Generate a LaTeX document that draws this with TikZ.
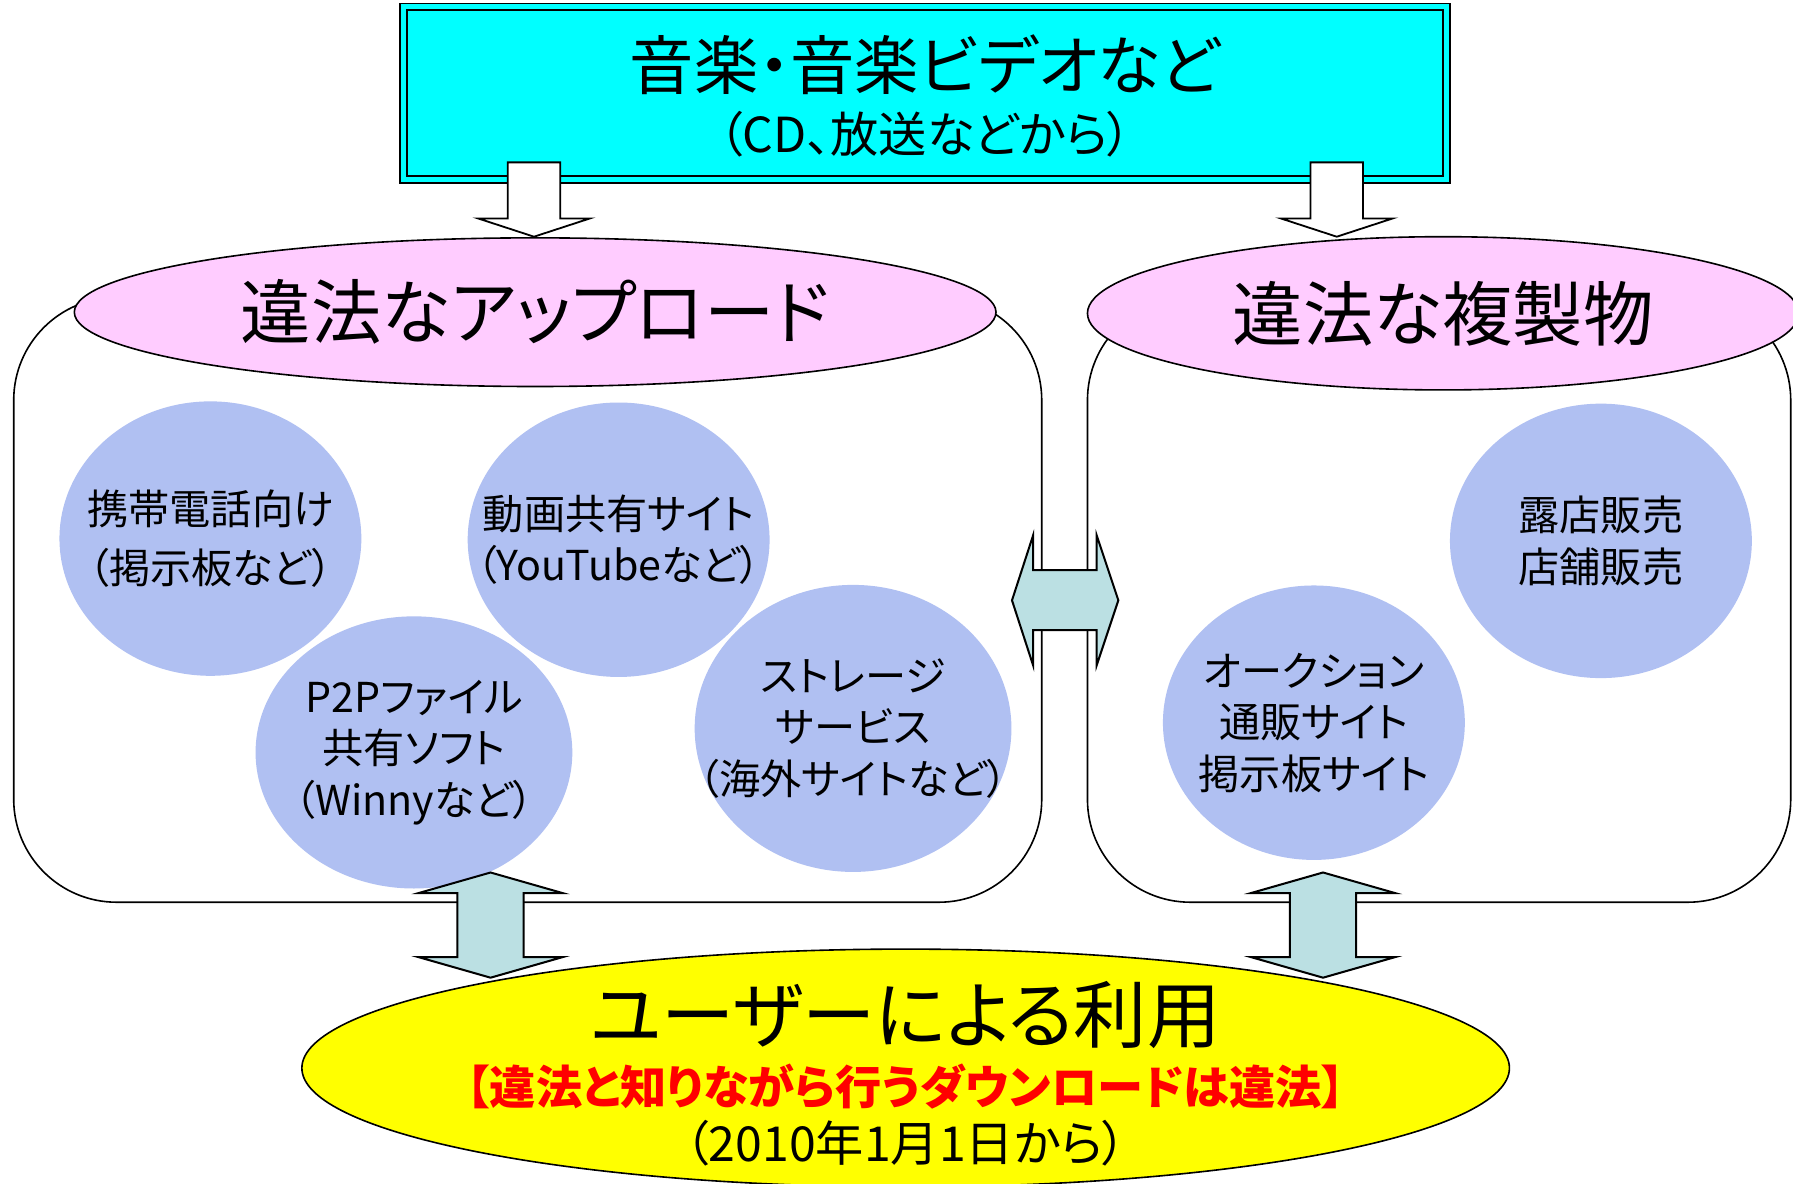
\documentclass[tikz,border=0pt]{standalone}
\usepackage{fontspec}
\setmainfont{Noto Sans CJK JP}[RawFeature=+palt]
\usepackage{xcolor}
\usetikzlibrary{
    shapes.geometric,
    positioning
}
\definecolor{source}{HTML}{00FFFF}
\definecolor{illegal}{HTML}{FFCCFF}
\definecolor{site}{RGB}{176,192,242}
\definecolor{usage}{HTML}{FFFF00}
\definecolor{exchange}{RGB}{187,224,227}
\definecolor{warning}{HTML}{FF0000}
\tikzset{
    % Source box style
    source box/.style={
        rectangle,
        draw=black,
        fill=source,
        line width=0.9pt,
        double=source,
        double distance=2.4pt,
        minimum width=182.4mm,
        minimum height=30.2mm,
        inner sep=0pt
    },
    % Group container style
    container/.style={
        rectangle,
        rounded corners=18mm,
        draw=black,
        line width=0.8pt,
        fill=white,
        inner sep=0pt
    },
    % Group title style
    group title/.style={
        ellipse,
        draw=black,
        fill=illegal,
        line width=0.8pt,
        inner sep=0pt,
        font=\fontsize{35}{40}\selectfont
    },
    % Site bubble style
    site/.style={
        ellipse,
        fill=site,
        inner sep=0pt,
        minimum width=52.8mm,
        minimum height=48mm
    },
    site text/.style={
        align=center,
        inner sep=0pt,
        font=\fontsize{20.5}{25.6}\selectfont
    },
    % Arrow styles
    hollow arrow/.style={
        draw=black,
        fill=white,
        line width=0.9pt
    },
    swap arrow/.style={
        draw=black,
        fill=exchange,
        line width=1pt
    }
}

\begin{document}
\begin{tikzpicture}[x=0.2mm, y=-0.2mm]
        \useasboundingbox (0,0) rectangle (1568,1035);

        % Containers
        \node[container, minimum width=179.8mm, minimum height=105.8mm] (upbox) at (461.5, 524.5) {};
        \node[container, minimum width=123mm, minimum height=105.8mm] (copybox) at (1258.5, 524.5) {};
        \node[group title, minimum width=161.2mm, minimum height=26mm] (upload) at (468, 273) {違法なアップロード};
        \node[group title, minimum width=124.4mm, minimum height=26.8mm] (copies) at (1262, 274) {違法な複製物};

        % Source
        \fill[black] (356, 9) rectangle (1268, 160);
        \node[source box] (src) at (809, 81.5) {};
        \node[font=\fontsize{32}{36}\selectfont] (srctitle) at (809, 57) {音楽・音楽ビデオなど};
        \node[font=\fontsize{24}{26}\selectfont] (srcnote) at (809, 117) {（CD、放送などから）};

        % Sites
        \node[site] (mobile) at (184, 471) {};
        \node[site text] (mobiletxt) at (mobile) {携帯電話向け\\[4pt]（掲示板など）};
        \node[site] (video) at (541, 472) {};
        \node[site text] (videotxt) at (video) {動画共有サイト\\（YouTubeなど）};
        \node[site, minimum width=55.4mm, minimum height=47.6mm] (ptop) at (362, 658) {};
        \node[site text] (ptoptxt) at (ptop) {P2Pファイル\\共有ソフト\\（Winnyなど）};
        \node[site, minimum width=55.4mm, minimum height=50.2mm] (storage) at (746, 637) {};
        \node[site text] (storagetxt) at (storage) {ストレージ\\サービス\\（海外サイトなど）};
        \node[site] (stall) at (1400, 473) {};
        \node[site text] (stalltxt) at (stall) {露店販売\\店舗販売};
        \node[site] (auction) at (1149, 632) {};
        \node[site text] (auctiontxt) at (auction) {オークション\\通販サイト\\掲示板サイト};

        % Users
        \node[ellipse, draw=black, fill=usage, line width=0.8pt, minimum width=211.2mm, minimum height=41.6mm] (users) at (792, 934) {};
        \node[font=\fontsize{36.5}{40}\selectfont] (usetitle) at (792, 888) {ユーザーによる利用};
        \node[font=\fontsize{23}{26}\selectfont\bfseries, text=warning] (usewarn) at (792, 950) {【違法と知りながら行うダウンロードは違法】};
        \node[font=\fontsize{24}{26}\selectfont] (usedate) at (792, 1000) {（2010年1月1日から）};

        % Arrows
        \foreach \x in {467, 1169} {
            \draw[hollow arrow] (\x-23, 142) -- (\x+23, 142) -- (\x+23, 191) -- (\x+49, 191) -- (\x, 207) -- (\x-49, 191) -- (\x-23, 191) -- cycle;
        }
        \draw[swap arrow] (885, 525) -- (903.5, 468) -- (903.5, 498.5) -- (959, 498.5) -- (959, 468) -- (978, 525) -- (959, 582) -- (959, 551) -- (903.5, 551) -- (903.5, 582) -- cycle;
        \foreach \x in {429, 1157} {
            \draw[swap arrow] (\x, 763) -- (\x+63, 781) -- (\x+29, 781) -- (\x+29, 837) -- (\x+63, 837) -- (\x, 855) -- (\x-63, 837) -- (\x-29, 837) -- (\x-29, 781) -- (\x-63, 781) -- cycle;
        }

    \end{tikzpicture}
\end{document}
